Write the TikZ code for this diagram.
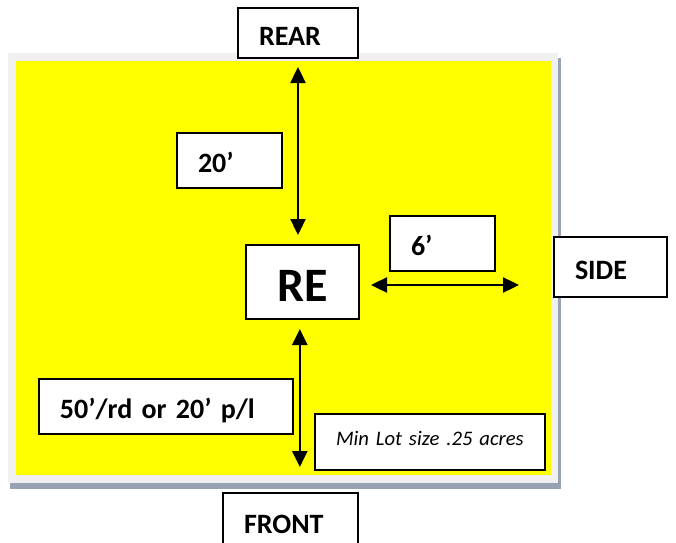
\documentclass[tikz,border=0pt]{standalone}
\usepackage{fontspec}
\setmainfont{Carlito}
\usepackage{xcolor}
\usetikzlibrary{arrows.meta}
\definecolor{lotyellow}{HTML}{FFFF00}
\definecolor{framegray}{HTML}{F0F0F0}
\definecolor{shadowgray}{HTML}{97A3B3}

\begin{document}
\begin{tikzpicture}[x=0.75pt,y=-0.75pt,>={Triangle[length=12pt,width=11.25pt]},
    lbl/.style={draw,line width=1.5pt,fill=white,anchor=north west,align=left,
      inner xsep=15.75pt,inner ysep=0pt,text height=18pt,text depth=0pt,
      font=\bfseries\fontsize{21}{25}\selectfont},
    dimarrow/.style={<->,line width=1.8pt}]
    \useasboundingbox (0,0) rectangle (676,543);
    % lot
    \fill[shadowgray] (10,58) rectangle (561,489);
    \fill[framegray] (8,53) rectangle (558,483);
    \fill[lotyellow] (16,61) rectangle (551,475);
    \node[lbl,text width=58.5pt,minimum height=37.5pt] (rear) at (237,7) {REAR};
    \node[lbl,text width=47.25pt,minimum height=41.25pt] (twenty) at (176,132) {20’};
    \node[draw,line width=1.5pt,fill=white,anchor=north west,align=center,
      minimum width=84.75pt,minimum height=55.5pt,text height=29pt,text depth=0pt,
      font=\bfseries\fontsize{36}{40}\selectfont] (re) at (245,244) {RE};
    \node[lbl,text width=47.25pt,minimum height=41.25pt] (six) at (389,215) {6’};
    \node[lbl,text width=53.25pt,minimum height=45pt] (side) at (553,236) {SIDE};
    \node[lbl,text width=159pt,minimum height=41.25pt] (road) at (38,378) {50’/rd or 20’ p/l};
    \node[lbl,text width=141pt,minimum height=42pt,text height=10pt,text depth=4.5pt,
      font=\itshape\fontsize{15.5}{18}\selectfont] (minlot) at (314,413) {Min Lot size .25 acres};
    \node[lbl,text width=69.75pt,minimum height=42pt] (front) at (222,492) {FRONT};
    % setbacks
    \draw[dimarrow,shorten <=6pt,shorten >=6.75pt] (rear.south) -- (rear.south |- re.north);
    \draw[dimarrow,shorten <=6.75pt,shorten >=18.75pt] ([xshift=-2pt]re.south) -- ([xshift=-2pt]re.south |- front.north);
    \draw[dimarrow,shorten <=8.25pt,shorten >=25.5pt] ([yshift=-2.25pt]re.east) -- ([yshift=-2.25pt]re.east -| side.west);
\end{tikzpicture}
\end{document}
